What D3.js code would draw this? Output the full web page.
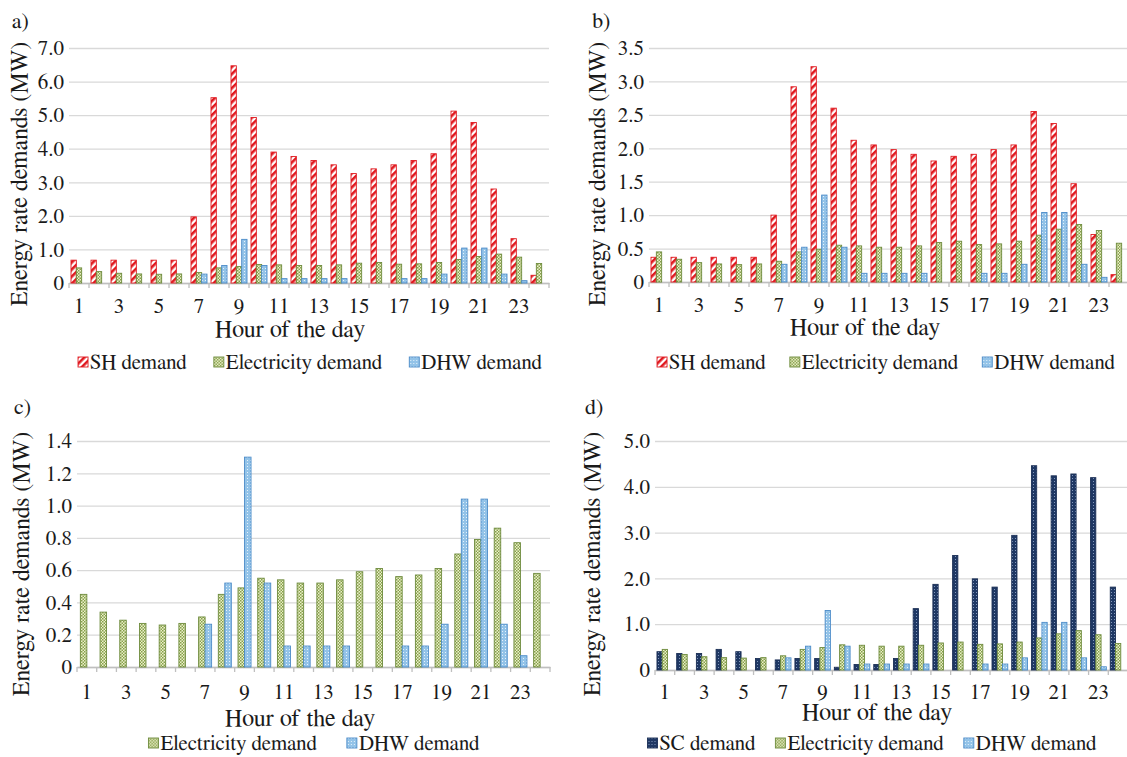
<!DOCTYPE html>
<html>
<head>
<meta charset="utf-8">
<script src="https://cdn.jsdelivr.net/npm/d3@7"></script>
<style>
  body { margin: 0; background: #fff; }
</style>
</head>
<body>
<div id="chart"></div>
<script>
// hours of the day (categories)
const hours = [1, 2, 3, 4, 5, 6, 7, 8, 9, 10, 11, 12, 13, 14, 15, 16, 17, 18, 19, 20, 21, 22, 23, 24];
const hourLabels = [1, 3, 5, 7, 9, 11, 13, 15, 17, 19, 21, 23];

// series values (MW)
const shDemandA = [0.68, 0.68, 0.68, 0.68, 0.68, 0.68, 1.97, 5.52, 6.47, 4.93, 3.90, 3.77, 3.65, 3.52, 3.26, 3.40, 3.52, 3.65, 3.85, 5.12, 4.78, 2.80, 1.32, 0.23];
const shDemandB = [0.37, 0.37, 0.37, 0.37, 0.37, 0.37, 1.00, 2.92, 3.22, 2.60, 2.12, 2.05, 1.98, 1.91, 1.81, 1.88, 1.91, 1.98, 2.05, 2.55, 2.37, 1.47, 0.71, 0.11];
const scDemandD = [0.40, 0.36, 0.36, 0.45, 0.40, 0.25, 0.22, 0.25, 0.25, 0.06, 0.12, 0.12, 0.25, 1.34, 1.87, 2.50, 1.99, 1.81, 2.94, 4.46, 4.24, 4.28, 4.20, 1.81];
const elecDemand = [0.45, 0.34, 0.29, 0.27, 0.26, 0.27, 0.31, 0.45, 0.49, 0.55, 0.54, 0.52, 0.52, 0.54, 0.59, 0.61, 0.56, 0.57, 0.61, 0.70, 0.79, 0.86, 0.77, 0.58];
const dhwDemand = [0, 0, 0, 0, 0, 0, 0.265, 0.52, 1.30, 0.52, 0.13, 0.13, 0.13, 0.13, 0, 0, 0.13, 0.13, 0.265, 1.04, 1.04, 0.265, 0.07, 0];

// y tick values per panel
const ticksA = [0, 1, 2, 3, 4, 5, 6, 7];
const ticksB = [0, 0.5, 1, 1.5, 2, 2.5, 3, 3.5];
const ticksC = [0, 0.2, 0.4, 0.6, 0.8, 1.0, 1.2, 1.4];
const ticksD = [0, 1, 2, 3, 4, 5];

const FONT = '"FreeSerif"';
const INK = "#1a1a1a";

const seriesStyle = {
  "SH demand": { fill: "url(#patSH)", stroke: "#e0191f" },
  "SC demand": { fill: "url(#patSC)", stroke: "#1b2f55" },
  "Electricity demand": { fill: "url(#patEl)", stroke: "#6e8b3d" },
  "DHW demand": { fill: "url(#patDHW)", stroke: "#4b8bc8" }
};

const svg = d3.select("#chart").append("svg")
  .attr("width", 1127).attr("height", 757);

// fill patterns
const defs = svg.append("defs");
const pSH = defs.append("pattern").attr("id", "patSH").attr("patternUnits", "userSpaceOnUse")
  .attr("width", 5).attr("height", 5).attr("patternTransform", "rotate(45)");
pSH.append("rect").attr("width", 5).attr("height", 5).attr("fill", "#fff");
pSH.append("rect").attr("width", 2.6).attr("height", 5).attr("fill", "#e0191f");

const pEl = defs.append("pattern").attr("id", "patEl").attr("patternUnits", "userSpaceOnUse")
  .attr("width", 3).attr("height", 3);
pEl.append("rect").attr("width", 3).attr("height", 3).attr("fill", "#edf1cc");
pEl.append("rect").attr("width", 1.5).attr("height", 1.5).attr("fill", "#86a04a");
pEl.append("rect").attr("x", 1.5).attr("y", 1.5).attr("width", 1.5).attr("height", 1.5).attr("fill", "#86a04a");

const pDHW = defs.append("pattern").attr("id", "patDHW").attr("patternUnits", "userSpaceOnUse")
  .attr("width", 3).attr("height", 3);
pDHW.append("rect").attr("width", 3).attr("height", 3).attr("fill", "#93c3e8");
pDHW.append("rect").attr("x", 1).attr("y", 1).attr("width", 1).attr("height", 1).attr("fill", "#e6f2fb");

const pSC = defs.append("pattern").attr("id", "patSC").attr("patternUnits", "userSpaceOnUse")
  .attr("width", 3).attr("height", 3);
pSC.append("rect").attr("width", 3).attr("height", 3).attr("fill", "#1f3864");
pSC.append("rect").attr("x", 1).attr("y", 1).attr("width", 1).attr("height", 1).attr("fill", "#8499bd");

function styleText(sel, size) {
  return sel.style("font-family", FONT).style("font-size", size + "px").style("fill", INK);
}

function drawPanel(p) {
  const g = svg.append("g");
  const x = d3.scaleBand().domain(hours).range([p.left, p.right]);
  const y = d3.scaleLinear().domain([0, p.ticks[p.ticks.length - 1]]).range([p.base, p.top]);
  const fmt = d => d === 0 ? "0" : d3.format(".1f")(d);

  // y axis with gridlines
  const yAxis = g.append("g")
    .attr("transform", `translate(${p.left},0)`)
    .call(d3.axisLeft(y).tickValues(p.ticks).tickFormat(fmt)
      .tickSize(-(p.right - p.left)).tickPadding(5));
  yAxis.attr("font-family", null);
  yAxis.select(".domain").remove();
  yAxis.selectAll(".tick line").attr("stroke", "#d9d9d9").attr("stroke-width", 1.3);
  styleText(yAxis.selectAll(".tick text"), 21);

  // x axis: odd labels
  const xAxis = g.append("g")
    .attr("transform", `translate(0,${p.base})`)
    .call(d3.axisBottom(x).tickValues(hourLabels).tickSize(0).tickSizeOuter(0).tickPadding(p.xPad));
  xAxis.attr("font-family", null);
  xAxis.select(".domain").attr("stroke", "#bfbfbf").attr("stroke-width", 1.5);
  styleText(xAxis.selectAll(".tick text"), 21);
  // category boundary ticks
  g.selectAll(".btick").data(hours.concat([25])).join("line")
    .attr("x1", d => d === 25 ? p.right : x(d))
    .attr("x2", d => d === 25 ? p.right : x(d))
    .attr("y1", p.base).attr("y2", p.base + 5)
    .attr("stroke", "#bfbfbf").attr("stroke-width", 1.3);

  // bars
  const names = p.series.map(s => s.name);
  const gw = x.bandwidth() * p.groupFrac;
  const inner = d3.scaleBand().domain(names)
    .range([(x.bandwidth() - gw) / 2, (x.bandwidth() + gw) / 2]);
  p.series.forEach(s => {
    const st = seriesStyle[s.name];
    g.append("g").selectAll("rect")
      .data(hours.map((h, i) => ({ h, v: s.values[i] })).filter(d => d.v > 0))
      .join("rect")
      .attr("x", d => x(d.h) + inner(s.name))
      .attr("width", inner.bandwidth())
      .attr("y", d => y(d.v))
      .attr("height", d => p.base - y(d.v))
      .attr("fill", st.fill)
      .attr("stroke", st.stroke)
      .attr("stroke-width", 0.9);
  });

  // panel letter
  styleText(g.append("text").attr("x", p.letterX).attr("y", p.letterY), 22).text(p.letter);

  // y title
  styleText(g.append("text")
    .attr("transform", `translate(${p.yTitleX},${p.yTitleY}) rotate(-90)`)
    .attr("text-anchor", "middle").attr("dominant-baseline", "central"), 24)
    .text("Energy rate demands (MW)");

  // x title
  styleText(g.append("text").attr("x", p.xTitleX).attr("y", p.xTitleY)
    .attr("text-anchor", "middle").attr("dominant-baseline", "central"), 24)
    .text("Hour of the day");

  // legend
  const leg = g.append("g");
  let cx = 0;
  p.series.forEach(s => {
    const st = seriesStyle[s.name];
    const it = leg.append("g").attr("transform", `translate(${cx},0)`);
    it.append("rect").attr("x", 0).attr("y", -5).attr("width", 10).attr("height", 10)
      .attr("fill", st.fill).attr("stroke", st.stroke).attr("stroke-width", 0.9);
    const t = styleText(it.append("text").attr("x", 12).attr("y", 0)
      .attr("dominant-baseline", "central"), 21).text(s.name);
    cx += 12 + t.node().getComputedTextLength() + p.legendGap;
  });
  const legW = cx - p.legendGap;
  leg.attr("transform", `translate(${p.legendX - legW / 2},${p.legendY})`);
}

drawPanel({
  letter: "a)", letterX: 12, letterY: 28,
  left: 69, right: 549, top: 48, base: 283, ticks: ticksA, groupFrac: 0.8, xPad: 15,
  series: [{ name: "SH demand", values: shDemandA }, { name: "Electricity demand", values: elecDemand }, { name: "DHW demand", values: dhwDemand }],
  yTitleX: 20, yTitleY: 174, xTitleX: 290, xTitleY: 330,
  legendX: 310, legendY: 362, legendGap: 27
});

drawPanel({
  letter: "b)", letterX: 592, letterY: 28,
  left: 649, right: 1129, top: 48, base: 282, ticks: ticksB, groupFrac: 0.8, xPad: 15,
  series: [{ name: "SH demand", values: shDemandB }, { name: "Electricity demand", values: elecDemand }, { name: "DHW demand", values: dhwDemand }],
  yTitleX: 598, yTitleY: 174, xTitleX: 865, xTitleY: 328,
  legendX: 886, legendY: 362, legendGap: 24
});

drawPanel({
  letter: "c)", letterX: 14, letterY: 414,
  left: 77, right: 550, top: 441, base: 667, ticks: ticksC, groupFrac: 0.66, xPad: 17,
  series: [{ name: "Electricity demand", values: elecDemand }, { name: "DHW demand", values: dhwDemand }],
  yTitleX: 22, yTitleY: 564, xTitleX: 300, xTitleY: 719,
  legendX: 314, legendY: 743, legendGap: 30
});

drawPanel({
  letter: "d)", letterX: 585, letterY: 414,
  left: 655, right: 1128, top: 441, base: 670, ticks: ticksD, groupFrac: 0.8, xPad: 14,
  series: [{ name: "SC demand", values: scDemandD }, { name: "Electricity demand", values: elecDemand }, { name: "DHW demand", values: dhwDemand }],
  yTitleX: 593, yTitleY: 564, xTitleX: 877, xTitleY: 713,
  legendX: 872, legendY: 743, legendGap: 20
});
</script>
</body>
</html>
